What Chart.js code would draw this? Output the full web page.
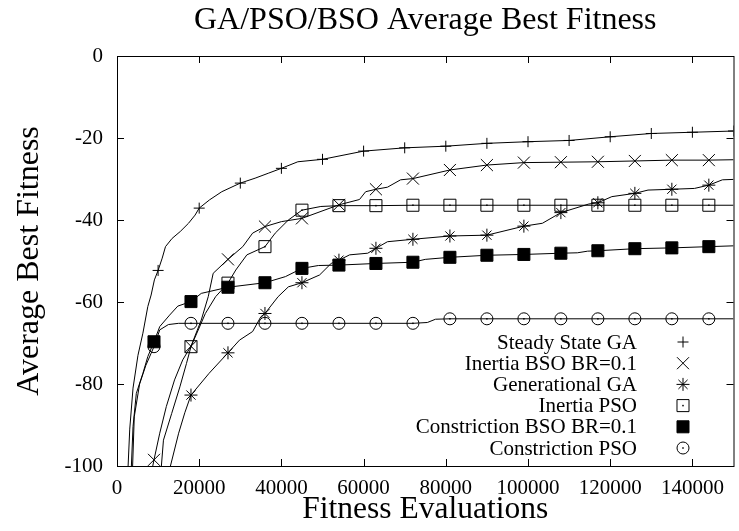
<!DOCTYPE html>
<html>
<head>
<meta charset="utf-8">
<title>GA/PSO/BSO Average Best Fitness</title>
<script src="https://cdn.jsdelivr.net/npm/chart.js@4.4.1/dist/chart.umd.min.js"></script>
<style>
  html, body { margin: 0; padding: 0; overflow: hidden; background: #fff; }
  #wrap { width: 740px; height: 531px; }
</style>
</head>
<body>
<div id="wrap"><canvas id="myChart" width="740" height="531"></canvas></div>
<script>
const serif = "'Liberation Serif', 'Times New Roman', serif";

const seriesNames = [
  "Steady State GA",
  "Inertia BSO BR=0.1",
  "Generational GA",
  "Inertia PSO",
  "Constriction BSO BR=0.1",
  "Constriction PSO",
];

const xTicks = [0, 20000, 40000, 60000, 80000, 100000, 120000, 140000];
const yTicks = [0, -20, -40, -60, -80, -100];

// Steady State GA (markers every 10000 evaluations)
const ssgaX = [2700, 3100, 3900, 5100, 6300, 7500, 8300, 9100, 10000, 11000, 11800, 13400, 15400, 17400, 19000, 20000,
  22500, 25500, 30000, 33600, 36800, 40000, 44000, 50000, 60000, 70000, 80000, 90000, 100000, 110000, 120000, 130000, 140000, 150000];
const ssgaY = [-100, -91, -81, -73, -67.6, -61.1, -58.3, -54.6, -52.3, -49.3, -46.5, -44.5, -42.8, -40.8, -38.8, -37.1,
  -35.1, -33.1, -31.0, -29.8, -28.6, -27.4, -25.8, -25.2, -23.2, -22.4, -22.0, -21.3, -20.9, -20.6, -19.7, -18.9, -18.6, -18.3];

// Inertia BSO BR=0.1
const ibsoX = [8700, 9000, 10400, 12000, 14000, 16000, 18000, 20500, 22200, 23400, 27000, 30600, 33000, 36000, 40000, 45000,
  54000, 59000, 60500, 63000, 65800, 69000, 72000, 81000, 90000, 99000, 108000, 117000, 126000, 135000, 144000, 150000];
const ibsoY = [-100, -98.5, -92, -85.5, -79, -74.1, -70.8, -64.4, -58.7, -53, -49.6, -46.5, -43.2, -41.6, -40.4, -39.6,
  -36.3, -35.0, -33.1, -32.5, -32.0, -30.2, -29.9, -27.8, -26.6, -26.0, -25.9, -25.8, -25.6, -25.4, -25.4, -25.3];

// Generational GA
const ggaX = [13000, 15000, 16500, 18000, 22400, 27000, 29800, 33000, 35000, 36000, 39200, 41700, 45000, 49300, 52100, 54000,
  56600, 61000, 63000, 65800, 72000, 81000, 90000, 99000, 103500, 108000, 114800, 117000, 120400, 126000, 129200, 135000,
  140500, 144000, 147300, 150000];
const ggaY = [-100, -92, -87, -82.7, -77.4, -72.4, -69.3, -67.2, -63.6, -62.8, -58.7, -56.3, -55.3, -53.4, -50.6, -49.8,
  -48.5, -48.1, -46.9, -45.3, -44.7, -43.9, -43.7, -41.5, -40.8, -38.2, -36.1, -35.8, -34.3, -33.5, -32.7, -32.5,
  -32.3, -31.5, -30.2, -30.1];

// Inertia PSO
const ipsoX = [10800, 11300, 13300, 15300, 16900, 18000, 21500, 24000, 27000, 28900, 31600, 36000, 38500, 41700, 45000, 49600,
  54000, 63000, 72000, 81000, 90000, 99000, 108000, 117000, 126000, 135000, 144000, 150000];
const ipsoY = [-100, -93.7, -87.2, -80.7, -75, -70.9, -62.8, -58.7, -55.4, -52.2, -48.5, -46.5, -43.2, -40, -37.6, -36.7,
  -36.5, -36.5, -36.4, -36.4, -36.4, -36.4, -36.4, -36.4, -36.4, -36.4, -36.4, -36.4];

// Constriction BSO BR=0.1
const cbsoX = [3500, 3900, 4700, 6300, 7500, 9000, 10400, 12800, 14800, 18000, 20500, 27000, 36000, 41000, 45000, 49000,
  54000, 63000, 72000, 75000, 81000, 90000, 99000, 108000, 112000, 114500, 117000, 126000, 135000, 144000, 150000];
const cbsoY = [-100, -90.4, -82.3, -77.4, -73.3, -69.7, -66, -63.2, -61, -59.9, -57.9, -56.4, -55.3, -53.8, -51.8, -51.1,
  -51.0, -50.6, -50.3, -49.6, -49.1, -48.6, -48.4, -48.1, -48.0, -47.6, -47.5, -47.0, -46.8, -46.5, -46.3];

// Constriction PSO
const cpsoX = [3800, 4200, 5500, 7000, 8300, 9000, 10400, 12500, 15000, 18000, 27000, 36000, 45000, 54000, 63000, 72000,
  75500, 77500, 81000, 90000, 99000, 108000, 117000, 126000, 135000, 144000, 150000];
const cpsoY = [-100, -88, -80, -75.5, -72.5, -70.9, -66.8, -65.5, -65.2, -65.2, -65.2, -65.2, -65.2, -65.2, -65.2, -65.2,
  -65.0, -64.2, -64.1, -64.1, -64.1, -64.1, -64.1, -64.1, -64.1, -64.1, -64.1];

const seriesX = [ssgaX, ibsoX, ggaX, ipsoX, cbsoX, cpsoX];
const seriesY = [ssgaY, ibsoY, ggaY, ipsoY, cbsoY, cpsoY];
const markerEvery = [10000, 9000, 9000, 9000, 9000, 9000];
const markerStyle = ["cross", "crossRot", "star", "rect", "rect", "circle"];
const markerSize = [5.5, 8.5, 6.5, 8.5, 8.5, 6];
const markerFill = [false, false, false, false, true, false];
const markerDot = [false, false, false, true, false, true];

const datasets = seriesNames.map((name, i) => ({
  label: name,
  data: seriesX[i].map((x, j) => ({ x: x, y: seriesY[i][j] })),
  borderColor: "#000",
  borderWidth: 1,
  tension: 0,
  fill: false,
  pointStyle: markerStyle[i],
  pointBorderColor: "#000",
  pointBorderWidth: 1,
  pointBackgroundColor: markerFill[i] ? "#000" : "rgba(0,0,0,0)",
  pointRadius: (c) => (c.raw && c.raw.x % markerEvery[i] === 0 ? markerSize[i] : 0),
}));

// gnuplot style frame with inward ticks on all four sides
const framePlugin = {
  id: "frame",
  afterDraw(chart) {
    const { ctx, chartArea: a, scales } = chart;
    ctx.save();
    ctx.strokeStyle = "#000";
    ctx.lineWidth = 1;
    ctx.strokeRect(a.left + 0.5, a.top + 0.5, a.right - a.left, a.bottom - a.top);
    ctx.beginPath();
    const t = 7;
    xTicks.forEach((v) => {
      const x = Math.round(scales.x.getPixelForValue(v)) + 0.5;
      ctx.moveTo(x, a.bottom); ctx.lineTo(x, a.bottom - t);
      ctx.moveTo(x, a.top); ctx.lineTo(x, a.top + t);
    });
    yTicks.forEach((v) => {
      const y = Math.round(scales.y.getPixelForValue(v)) + 0.5;
      ctx.moveTo(a.left, y); ctx.lineTo(a.left + t, y);
      ctx.moveTo(a.right, y); ctx.lineTo(a.right - t, y);
    });
    ctx.stroke();
    ctx.restore();
  },
};

// small dot in the middle of the open square and circle markers
const dotPlugin = {
  id: "dots",
  afterDatasetsDraw(chart) {
    const ctx = chart.ctx;
    ctx.save();
    ctx.fillStyle = "#000";
    chart.data.datasets.forEach((ds, i) => {
      if (!markerDot[i]) return;
      chart.getDatasetMeta(i).data.forEach((pt, j) => {
        if (seriesX[i][j] % markerEvery[i] !== 0) return;
        ctx.fillRect(pt.x - 0.75, pt.y - 0.75, 1.5, 1.5);
      });
    });
    ctx.restore();
  },
};

// key in the lower right corner: text right aligned, symbol to its right
const keyPlugin = {
  id: "key",
  afterDraw(chart) {
    const ctx = chart.ctx;
    const textRight = 637;
    const symbolX = 683;
    const top = 342;
    const step = 21.2;
    ctx.save();
    ctx.font = "21px " + serif;
    ctx.textAlign = "right";
    ctx.textBaseline = "middle";
    ctx.fillStyle = "#000";
    ctx.strokeStyle = "#000";
    chart.data.datasets.forEach((ds, i) => {
      const y = top + i * step;
      ctx.fillText(ds.label, textRight, y + 1);
      ctx.fillStyle = markerFill[i] ? "#000" : "rgba(0,0,0,0)";
      ctx.lineWidth = 1;
      Chart.helpers.drawPoint(ctx, {
        pointStyle: markerStyle[i],
        radius: markerSize[i],
        rotation: 0,
        borderWidth: 1,
      }, symbolX, y);
      ctx.fillStyle = "#000";
      if (markerDot[i]) ctx.fillRect(symbolX - 0.75, y - 0.75, 1.5, 1.5);
    });
    ctx.restore();
  },
};

const config = {
  type: "line",
  data: { datasets },
  options: {
    responsive: false,
    animation: false,
    events: [],
    layout: { padding: 0 },
    plugins: {
      legend: { display: false },
      tooltip: { enabled: false },
      title: {
        display: true,
        fullSize: false,
        text: "GA/PSO/BSO Average Best Fitness",
        color: "#000",
        font: { family: serif, size: 32, weight: "normal" },
        padding: { top: 1, bottom: 16.6 },
      },
    },
    scales: {
      x: {
        type: "linear",
        min: 0,
        max: 150000,
        afterBuildTicks: (scale) => { scale.ticks = xTicks.map((v) => ({ value: v })); },
        afterFit: (scale) => { scale.height = 65; },
        grid: { display: false, drawTicks: false },
        border: { display: false },
        ticks: {
          color: "#000",
          autoSkip: false,
          maxRotation: 0,
          padding: 10,
          font: { family: serif, size: 21 },
          callback: (v) => String(v),
        },
        title: {
          display: true,
          text: "Fitness Evaluations",
          color: "#000",
          font: { family: serif, size: 31.5 },
          padding: { top: 0, bottom: 2 },
        },
      },
      y: {
        type: "linear",
        min: -100,
        max: 0,
        afterBuildTicks: (scale) => { scale.ticks = yTicks.map((v) => ({ value: v })); },
        afterFit: (scale) => { scale.width = 117; },
        grid: { display: false, drawTicks: false },
        border: { display: false },
        ticks: {
          color: "#000",
          padding: 14,
          font: { family: serif, size: 21 },
          callback: (v) => String(v),
        },
        title: {
          display: true,
          text: "Average Best Fitness",
          color: "#000",
          font: { family: serif, size: 32 },
          padding: { top: 10, bottom: 0 },
        },
      },
    },
  },
  plugins: [framePlugin, dotPlugin, keyPlugin],
};

const chart = new Chart(document.getElementById("myChart"), config);
</script>
</body>
</html>
